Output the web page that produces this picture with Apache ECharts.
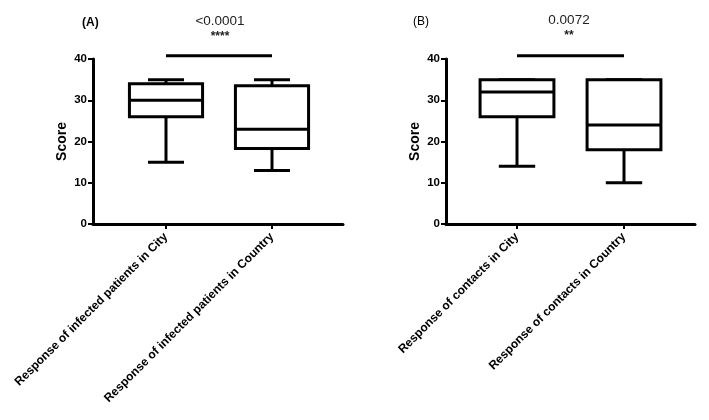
<!DOCTYPE html>
<html><head><meta charset="utf-8">
<script src="https://cdn.jsdelivr.net/npm/echarts@6/dist/echarts.min.js"></script>
<style>html,body{margin:0;padding:0;background:#fff}#c{width:709px;height:420px}</style>
</head><body><div id="c"></div>
<script>
// ---- data ----
const categoriesA = ['Response of infected patients in City', 'Response of infected patients in Country'];
const categoriesB = ['Response of contacts in City', 'Response of contacts in Country'];
// each row: [min, Q1, median, Q3, max]
const boxA = [[15, 26, 30, 34, 35], [13, 18.3, 23, 33.5, 35]];
const boxB = [[14, 26, 32, 35, 35], [10, 18, 24, 35, 35]];
const yTicks = [0, 10, 20, 30, 40];
const sigBarA = [40.8, 40.8];
const sigBarB = [40.8, 40.8];
const pValueA = '<0.0001', starsA = '****';
const pValueB = '0.0072', starsB = '**';
const panelTitles = ['(A)', '(B)'];

const FONT = '"Liberation Sans", Arial, sans-serif';
const yMin = yTicks[0], yMax = yTicks[yTicks.length - 1], yStep = yTicks[1] - yTicks[0];

function renderBox(params, api) {
  const i = api.value(0);
  const mn = api.coord([i, api.value(1)]);
  const q1 = api.coord([i, api.value(2)]);
  const md = api.coord([i, api.value(3)]);
  const q3 = api.coord([i, api.value(4)]);
  const mx = api.coord([i, api.value(5)]);
  const band = api.size([1, 0])[0];
  const bw = band * 0.69, cw = band * 0.34;
  const x = mn[0];
  const st = { stroke: '#000', lineWidth: 3 };
  return { type: 'group', children: [
    { type: 'line', shape: { x1: x, y1: q3[1], x2: x, y2: mx[1] }, style: st },
    { type: 'line', shape: { x1: x, y1: q1[1], x2: x, y2: mn[1] }, style: st },
    { type: 'line', shape: { x1: x - cw / 2, y1: mx[1], x2: x + cw / 2, y2: mx[1] }, style: st },
    { type: 'line', shape: { x1: x - cw / 2, y1: mn[1], x2: x + cw / 2, y2: mn[1] }, style: st },
    { type: 'rect', shape: { x: x - bw / 2, y: q3[1], width: bw, height: q1[1] - q3[1] }, style: { stroke: '#000', lineWidth: 3, fill: '#fff' } },
    { type: 'line', shape: { x1: x - bw / 2, y1: md[1], x2: x + bw / 2, y2: md[1] }, style: st }
  ]};
}

const gridTop = 59, gridHeight = 165;
const frames = [{ left: 93, width: 250 }, { left: 446, width: 249 }];
const dataGrids = [{ left: 113, width: 212 }, { left: 463.5, width: 214 }];

const grid = [], xAxis = [], yAxis = [], series = [];
[[categoriesA, boxA, sigBarA], [categoriesB, boxB, sigBarB]].forEach(([cats, boxes, sig], p) => {
  const gf = grid.length;
  grid.push({ left: frames[p].left, width: frames[p].width, top: gridTop, height: gridHeight });
  xAxis.push({ gridIndex: gf, type: 'value', min: 0, max: 1, axisLine: { show: true, lineStyle: { color: '#000', width: 3 } },
    axisTick: { show: false }, axisLabel: { show: false }, splitLine: { show: false } });
  yAxis.push({ gridIndex: gf, type: 'value', min: yMin, max: yMax, interval: yStep,
    axisLine: { show: true, lineStyle: { color: '#000', width: 3 } },
    axisTick: { show: true, length: 5, lineStyle: { color: '#000', width: 2 } },
    axisLabel: { color: '#000', fontWeight: 'bold', fontSize: 11.5, fontFamily: FONT, margin: 6 },
    splitLine: { show: false },
    name: 'Score', nameLocation: 'middle', nameGap: 24,
    nameTextStyle: { color: '#000', fontWeight: 'bold', fontSize: 14, fontFamily: FONT } });
  const gd = grid.length;
  grid.push({ left: dataGrids[p].left, width: dataGrids[p].width, top: gridTop, height: gridHeight });
  xAxis.push({ gridIndex: gd, type: 'category', data: cats, boundaryGap: true,
    axisLine: { show: false },
    axisTick: { show: true, alignWithLabel: true, length: 5, lineStyle: { color: '#000', width: 2 } },
    axisLabel: { rotate: 45, interval: 0, color: '#000', fontWeight: 'bold', fontSize: 12, fontFamily: FONT, margin: 11 },
    splitLine: { show: false } });
  yAxis.push({ gridIndex: gd, type: 'value', min: yMin, max: yMax, interval: yStep, show: false });
  series.push({ type: 'custom', xAxisIndex: gd, yAxisIndex: gd, renderItem: renderBox,
    encode: { x: 0, y: [1, 2, 3, 4, 5] },
    data: boxes.map((b, i) => [i].concat(b)) });
  series.push({ type: 'line', xAxisIndex: gd, yAxisIndex: gd, data: sig, symbol: 'none', clip: false,
    lineStyle: { color: '#000', width: 3 }, silent: true });
});

const chart = echarts.init(document.getElementById('c'), null, { renderer: 'canvas' });
chart.setOption({
  animation: false,
  backgroundColor: '#fff',
  grid, xAxis, yAxis, series,
  graphic: [
    { type: 'text', left: 82, top: 17, style: { text: panelTitles[0], font: 'bold 12px ' + FONT, fill: '#000' } },
    { type: 'text', left: 413, top: 16, style: { text: panelTitles[1], font: '12px ' + FONT, fill: '#000' } },
    { type: 'text', x: 220, y: 21, style: { text: pValueA, font: '13.5px ' + FONT, fill: '#222', align: 'center', verticalAlign: 'middle' } },
    { type: 'text', x: 220, y: 37, style: { text: starsA, font: 'bold 12px ' + FONT, fill: '#222', align: 'center', verticalAlign: 'middle' } },
    { type: 'text', x: 569, y: 20, style: { text: pValueB, font: '13.5px ' + FONT, fill: '#222', align: 'center', verticalAlign: 'middle' } },
    { type: 'text', x: 569, y: 36, style: { text: starsB, font: 'bold 12px ' + FONT, fill: '#222', align: 'center', verticalAlign: 'middle' } }
  ]
});
</script>
</body></html>
